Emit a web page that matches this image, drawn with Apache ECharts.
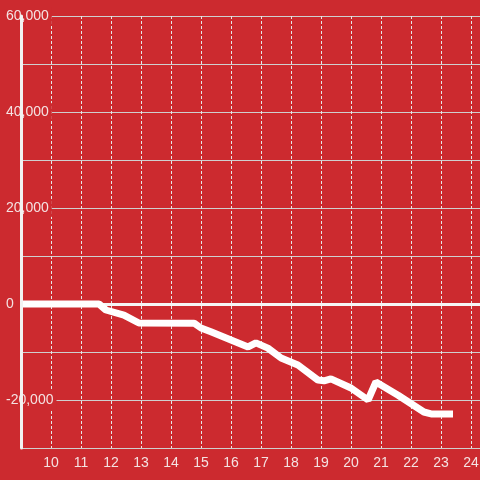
<!DOCTYPE html>
<html>
<head>
<meta charset="utf-8">
<script src="https://cdn.jsdelivr.net/npm/echarts@6/dist/echarts.min.js"></script>
<style>html,body{margin:0;padding:0;background:#cc2a2f;overflow:hidden;}#c{width:480px;height:480px;}</style>
</head>
<body>
<div id="c"></div>
<script>
const xs = [9, 11.6, 11.83, 12.43, 12.93, 14.77, 15.0, 15.33, 16.0, 16.57, 16.83, 17.23, 17.67, 18.23, 18.9, 19.1, 19.33, 20.0, 20.57, 20.83, 21.57, 22.43, 22.67, 23.4];
const ys = [0, 0, -1250, -2300, -3960, -4000, -5000, -5800, -7500, -8950, -8100, -9200, -11250, -12700, -15850, -16000, -15600, -17500, -20000, -16250, -19000, -22500, -22900, -22900];
const yTicks = [-20000, 0, 20000, 40000, 60000];

const bg = '#cc2a2f';
const txt = '#f4e2e2';
const data = xs.map((x, i) => [x, ys[i]]);

const chart = echarts.init(document.getElementById('c'));
chart.setOption({
  backgroundColor: bg,
  animation: false,
  grid: {left: 21, width: 465, top: 16, bottom: 32, containLabel: false, outerBoundsMode: 'none'},
  xAxis: {
    type: 'value', min: 9, max: 24.5, interval: 1,
    axisLine: {show: false}, axisTick: {show: false},
    axisLabel: {
      color: txt, fontSize: 14, fontFamily: 'Liberation Sans, Arial, sans-serif', margin: 8,
      showMaxLabel: false,
      formatter: v => (Number.isInteger(v) && v > 9) ? String(v) : ''
    },
    splitLine: {show: true, lineStyle: {color: '#e6e6e6', width: 1, type: [3, 2]}}
  },
  yAxis: [{
    type: 'value', min: -30000, max: 60000, interval: 10000,
    axisLine: {show: false}, axisTick: {show: false},
    axisLabel: {
      color: txt, fontSize: 14, fontFamily: 'Liberation Sans, Arial, sans-serif',
      align: 'left', margin: 16,
      backgroundColor: bg, padding: [2, 3, 2, 1],
      formatter: v => yTicks.indexOf(v) >= 0 ? v.toLocaleString('en-US') : ''
    },
    splitLine: {show: true, lineStyle: {color: '#cfcfcf', width: 1}}
  }, {
    type: 'value', min: -30000, max: 60000, interval: 10000, position: 'left', z: 10,
    axisLine: {show: true, lineStyle: {color: '#f2f2f2', width: 3}},
    axisTick: {show: false}, axisLabel: {show: false}, splitLine: {show: false}
  }],
  series: [{
    type: 'line', data: data, symbol: 'none', yAxisIndex: 0,
    lineStyle: {color: '#ffffff', width: 7},
    z: 5,
    markLine: {
      silent: true, symbol: 'none', label: {show: false},
      lineStyle: {color: '#f5f5f5', width: 3, type: 'solid'},
      data: [{yAxis: 0}]
    }
  }]
});
</script>
</body>
</html>
